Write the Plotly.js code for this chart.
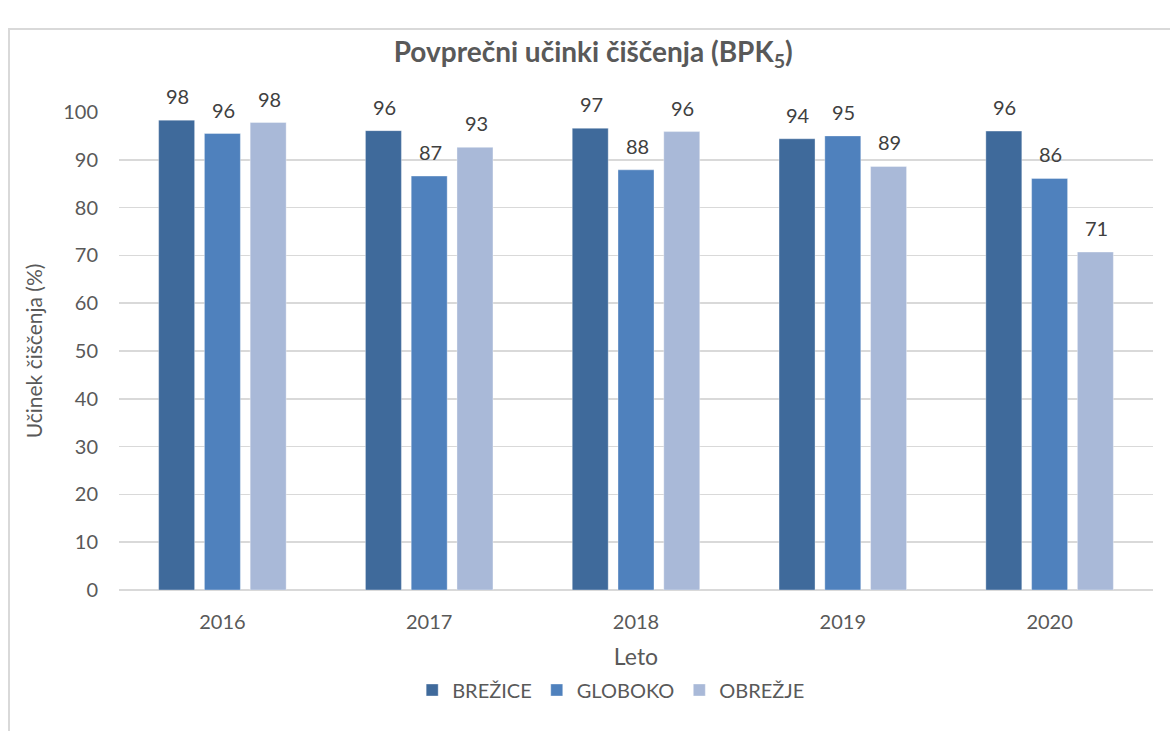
<!DOCTYPE html>
<html>
<head>
<meta charset="utf-8">
<script src="https://cdn.plot.ly/plotly-3.0.1.min.js"></script>
<style>
  html, body { margin: 0; padding: 0; background: #ffffff; }
  #wrap { position: relative; width: 1170px; height: 731px; overflow: hidden; }
  #chart { position: absolute; left: 0; top: 0; width: 1170px; height: 731px; }
  #frame { position: absolute; left: 8px; top: 28px; width: 1180px; height: 720px;
           border-left: 2px solid #d9d9d9; border-top: 2px solid #d9d9d9; pointer-events: none; }
</style>
</head>
<body>
<div id="wrap">
  <div id="chart"></div>
  <div id="frame"></div>
</div>
<script>
const years = ['2016', '2017', '2018', '2019', '2020'];
const brezice = [98.3, 96.1, 96.6, 94.4, 96.0];
const globoko = [95.5, 86.6, 87.9, 95.0, 86.1];
const obrezje = [97.8, 92.6, 95.9, 88.6, 70.7];
const seriesNames = ['BREŽICE', 'GLOBOKO', 'OBREŽJE'];
const seriesColors = ['#3f6a9b', '#4f81bd', '#a9b9d8'];

const FONT = 'Lato, "Open Sans", "DejaVu Sans", sans-serif';
const seriesValues = [brezice, globoko, obrezje];

const traces = seriesValues.map((vals, i) => ({
  type: 'bar',
  name: seriesNames[i],
  x: years,
  y: vals,
  marker: { color: seriesColors[i], line: { color: 'rgba(255,255,255,0.35)', width: 1 } },
  hoverinfo: 'x+y+name'
}));

// value labels above the bars (x given as category index, offset by slot within the group)
const SLOT_PX = 45.8;
const annotations = [];
seriesValues.forEach((vals, i) => {
  vals.forEach((v, j) => {
    annotations.push({
      x: j, y: v, xref: 'x', yref: 'y',
      text: String(Math.round(v)),
      showarrow: false,
      xshift: (i - 1) * SLOT_PX + 1,
      yshift: 24,
      yanchor: 'middle',
      font: { family: FONT, size: 20, color: '#404040' }
    });
  });
});

const layout = {
  width: 1170,
  height: 731,
  paper_bgcolor: '#ffffff',
  plot_bgcolor: '#ffffff',
  margin: { l: 119, r: 17, t: 112, b: 141 },
  barmode: 'group',
  bargap: 0.336,
  bargroupgap: 0.214,
  showlegend: true,
  font: { family: FONT, color: '#595959' },
  annotations: annotations,
  title: {
    text: 'Povprečni učinki čiščenja (BPK<sub>5</sub>)',
    font: { family: FONT, size: 28, color: '#595959', weight: 'bold' },
    x: 0.507, xref: 'container', xanchor: 'center',
    y: 1 - 52 / 731, yref: 'container', yanchor: 'middle'
  },
  xaxis: {
    type: 'category',
    categoryarray: years,
    range: [-0.5, years.length - 0.5],
    autorange: false,
    showgrid: false,
    showline: false,
    ticks: '',
    ticklabelstandoff: 18,
    tickfont: { family: FONT, size: 20, color: '#595959' },
    title: { text: 'Leto', font: { family: FONT, size: 23, color: '#595959' }, standoff: 20 }
  },
  yaxis: {
    range: [0, 100],
    autorange: false,
    dtick: 10,
    showgrid: true,
    gridcolor: '#d9d9d9',
    gridwidth: 1.5,
    zeroline: true,
    zerolinecolor: '#d9d9d9',
    zerolinewidth: 1.5,
    showline: false,
    ticks: '',
    ticklabelstandoff: 20,
    tickfont: { family: FONT, size: 20, color: '#595959' },
    title: { text: 'Učinek čiščenja (%)', font: { family: FONT, size: 21, color: '#595959' }, standoff: 14 }
  },
  legend: {
    orientation: 'h',
    x: 0.476, xref: 'paper', xanchor: 'center',
    y: 1 - 690 / 731, yref: 'container', yanchor: 'middle',
    font: { family: FONT, size: 20, color: '#595959' },
    itemwidth: 30,
    traceorder: 'normal'
  }
};

Plotly.newPlot('chart', traces, layout, { displayModeBar: false, staticPlot: true });
</script>
</body>
</html>
